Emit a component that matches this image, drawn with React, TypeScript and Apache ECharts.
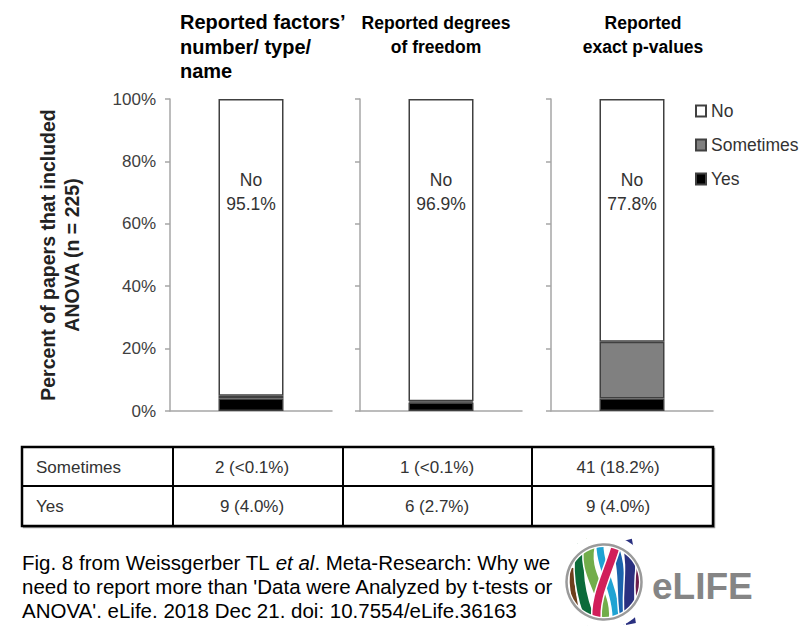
import React, { useEffect, useRef } from "react";
import * as echarts from "echarts";

// ---------- data ----------
const panelTitles = [
  "Reported factors’\nnumber/ type/\nname",
  "Reported degrees\nof freedom",
  "Reported\nexact p-values",
];
const statusNames = ["No", "Sometimes", "Yes"];
const yesPct = [4.0, 2.7, 4.0];
const sometimesPct = [0.9, 0.4, 18.2];
const noPct = [95.1, 96.9, 77.8];
const yAxisTitle = "Percent of papers that included\nANOVA (n = 225)";
const tableRowLabels = ["Sometimes", "Yes"];
const sometimesCells = ["2 (<0.1%)", "1 (<0.1%)", "41 (18.2%)"];
const yesCells = ["9 (4.0%)", "6 (2.7%)", "9 (4.0%)"];
const captionLines = [
  "{n|Fig. 8 from Weissgerber TL }{i|et al}{n|. Meta-Research: Why we}",
  "{n|need to report more than 'Data were Analyzed by t-tests or}",
  "{n|ANOVA'. eLife. 2018 Dec 21. doi: 10.7554/eLife.36163}",
];

const FONT = "'Liberation Sans', Arial, Helvetica, sans-serif";
const AXIS_GRAY = "#a6a6a6";

export default function App() {
  const ref = useRef<HTMLDivElement>(null);

  useEffect(() => {
    if (!ref.current) return;
    const chart = echarts.init(ref.current, undefined, { renderer: "svg" });

    const axisLeft = [170, 360, 551];
    const grids = axisLeft.map((l) => ({ left: l, top: 99, width: 162, height: 312 }));

    const xAxes = axisLeft.map((_, i) => ({
      type: "category",
      gridIndex: i,
      data: [panelTitles[i]],
      axisLine: { show: true, lineStyle: { color: AXIS_GRAY, width: 1.5 } },
      axisTick: { show: false },
      axisLabel: { show: false },
    }));

    const yAxes = axisLeft.map((_, i) => ({
      type: "value",
      gridIndex: i,
      min: 0,
      max: 100,
      interval: 20,
      axisLine: { show: true, lineStyle: { color: AXIS_GRAY, width: 1.5 } },
      axisTick: { show: true, length: 5, lineStyle: { color: AXIS_GRAY, width: 1.5 } },
      axisLabel: {
        show: i === 0,
        formatter: "{value}%",
        fontSize: 17,
        color: "#404040",
        fontFamily: FONT,
        margin: 14,
      },
      splitLine: { show: false },
      name: i === 0 ? yAxisTitle : "",
      nameLocation: "middle",
      nameRotate: 90,
      nameGap: 86,
      nameTextStyle: {
        fontSize: 19.5,
        fontWeight: "bold",
        color: "#222",
        fontFamily: FONT,
        lineHeight: 24,
        align: "center",
      },
    }));

    const series: any[] = [];
    axisLeft.forEach((_, i) => {
      const common = {
        type: "bar",
        stack: "s" + i,
        xAxisIndex: i,
        yAxisIndex: i,
        barWidth: 65,
      };
      series.push({
        ...common,
        name: statusNames[2],
        data: [yesPct[i]],
        itemStyle: { color: "#000", borderColor: "#404040", borderWidth: 1.5 },
      });
      series.push({
        ...common,
        name: statusNames[1],
        data: [sometimesPct[i]],
        itemStyle: { color: "#808080", borderColor: "#404040", borderWidth: 1.5 },
      });
      series.push({
        ...common,
        name: statusNames[0],
        data: [noPct[i]],
        itemStyle: { color: "#fff", borderColor: "#404040", borderWidth: 1.5 },
        label: {
          show: true,
          position: "insideTop",
          distance: 69,
          formatter: "{a}\n{c}%",
          fontSize: 17.5,
          lineHeight: 24,
          color: "#333",
          fontFamily: FONT,
        },
      });
    });

    // ---------- graphics ----------
    const g: any[] = [];
    // panel titles
    g.push({
      type: "text",
      x: 180,
      y: 10,
      style: {
        text: panelTitles[0],
        fontSize: 20,
        fontWeight: "bold",
        fontFamily: FONT,
        lineHeight: 24.5,
        fill: "#000",
        align: "left",
        verticalAlign: "top",
      },
    });
    [436, 643].forEach((cx, k) => {
      g.push({
        type: "text",
        x: cx,
        y: 11,
        style: {
          text: panelTitles[k + 1],
          fontSize: 17.5,
          fontWeight: "bold",
          fontFamily: FONT,
          lineHeight: 24,
          fill: "#000",
          align: "center",
          verticalAlign: "top",
        },
      });
    });

    // table
    const tL = 22, tR = 713, tT = 447, tB = 526, tMid = 486;
    const colX = [173, 343, 532];
    g.push({
      type: "rect",
      shape: { x: tL + 1.5, y: tT + 1.5, width: tR - tL, height: tB - tT },
      style: { fill: "none", stroke: "#9a9a9a", lineWidth: 1.5 },
    });
    g.push({
      type: "rect",
      shape: { x: tL, y: tT, width: tR - tL, height: tB - tT },
      style: { fill: "#fff", stroke: "#000", lineWidth: 2.5 },
    });
    g.push({
      type: "line",
      shape: { x1: tL, y1: tMid, x2: tR, y2: tMid },
      style: { stroke: "#000", lineWidth: 2 },
    });
    colX.forEach((x) =>
      g.push({
        type: "line",
        shape: { x1: x, y1: tT, x2: x, y2: tB },
        style: { stroke: "#000", lineWidth: 2 },
      })
    );
    const rowY = [467, 506];
    const cellCx = [252, 437, 618];
    const tableRows = [sometimesCells, yesCells];
    tableRowLabels.forEach((lab, r) => {
      g.push({
        type: "text",
        x: 36,
        y: rowY[r],
        style: {
          text: lab,
          fontSize: 17,
          fontFamily: FONT,
          fill: "#333",
          align: "left",
          verticalAlign: "middle",
        },
      });
      tableRows[r].forEach((txt, c) => {
        g.push({
          type: "text",
          x: cellCx[c],
          y: rowY[r],
          style: {
            text: txt,
            fontSize: 17,
            fontFamily: FONT,
            fill: "#333",
            align: "center",
            verticalAlign: "middle",
          },
        });
      });
    });

    // caption
    g.push({
      type: "text",
      x: 22,
      y: 550,
      style: {
        text: captionLines.join("\n"),
        fontFamily: FONT,
        fontSize: 20.5,
        lineHeight: 24,
        fill: "#000",
        align: "left",
        verticalAlign: "top",
        rich: {
          n: { fontSize: 20.5, fontFamily: FONT, lineHeight: 24, fill: "#000" },
          i: { fontSize: 20.5, fontFamily: FONT, lineHeight: 24, fill: "#000", fontStyle: "italic" },
        },
      },
    });

    // eLife logo
    const stripes = [
      { c: "#6d3f1d", w: 5, s: [-31, -14, -28, 26, -34, 0, -30, 15] },
      { c: "#0b6b3a", w: 9, s: [-22, -38, -12, 42, -29, -10, -21, 20] },
      { c: "#1fa3d3", w: 7, s: [-4, -42, 12, 42, -6, -15, 14, 10] },
      { c: "#72ad4a", w: 10, s: [-13, -42, -1, 42, -24, -5, 6, 10] },
      { c: "#1b63ad", w: 7, s: [8, -42, 21, 42, 22, -15, 14, 15] },
      { c: "#2a3080", w: 10, s: [23, -42, 27, 42, 31, -10, 21, 15] },
      { c: "#6c1c4c", w: 4, s: [35, -16, 35, 20, 33, 0, 33, 10] },
      { c: "#d11f5a", w: 8, s: [13, -40, -7, 42, 5, -10, -11, 15] },
    ];
    const logoChildren: any[] = [];
    stripes.forEach((st) => {
      const [x1, y1, x2, y2, cpx1, cpy1, cpx2, cpy2] = st.s;
      const shape = { x1, y1, x2, y2, cpx1, cpy1, cpx2, cpy2 };
      logoChildren.push({
        type: "bezierCurve",
        shape,
        style: { stroke: "#fff", lineWidth: st.w + 3, fill: null },
      });
      logoChildren.push({
        type: "bezierCurve",
        shape,
        style: { stroke: st.c, lineWidth: st.w, fill: null },
      });
    });
    logoChildren.push({
      type: "ring",
      shape: { cx: 0, cy: 0, r: 47, r0: 35 },
      style: { fill: "#fff" },
    });
    logoChildren.push({
      type: "circle",
      shape: { cx: 0, cy: 0, r: 37.5 },
      style: { fill: "none", stroke: "#9a9a9a", lineWidth: 2.5 },
    });
    g.push({ type: "group", x: 604, y: 582, children: logoChildren });
    g.push({
      type: "text",
      x: 652,
      y: 586,
      style: {
        text: "eLIFE",
        fontSize: 37,
        fontWeight: "bold",
        fontFamily: FONT,
        fill: "#858585",
        align: "left",
        verticalAlign: "middle",
      },
    });

    chart.setOption({
      animation: false,
      backgroundColor: "#fff",
      textStyle: { fontFamily: FONT },
      grid: grids,
      xAxis: xAxes,
      yAxis: yAxes,
      legend: {
        data: statusNames,
        orient: "vertical",
        left: 695,
        top: 101,
        padding: 0,
        icon: "rect",
        itemWidth: 10,
        itemHeight: 11,
        itemGap: 14,
        selectedMode: false,
        textStyle: { fontSize: 17.5, color: "#333", fontFamily: FONT, lineHeight: 20 },
      },
      series,
      graphic: g,
    });

    return () => chart.dispose();
  }, []);

  return (
    <div
      ref={ref}
      style={{ position: "fixed", left: 0, top: 0, width: 801, height: 638, background: "#fff" }}
    />
  );
}
